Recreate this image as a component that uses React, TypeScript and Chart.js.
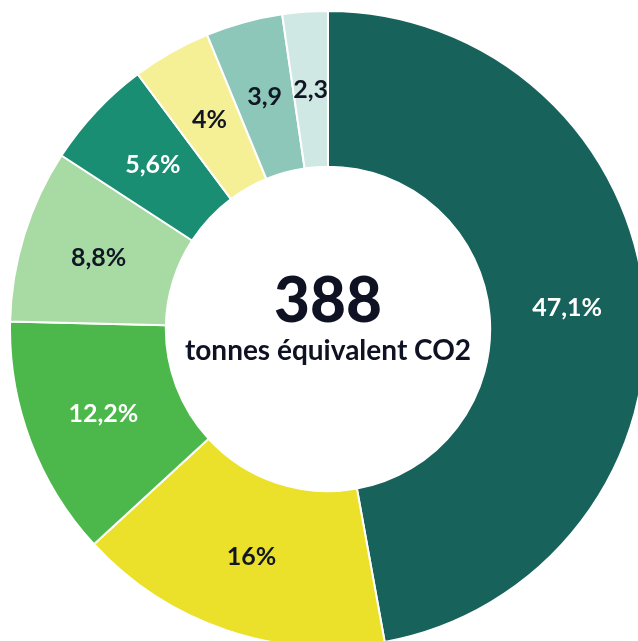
import React, { useEffect, useRef } from "react";
import { Chart, registerables } from "chart.js";

Chart.register(...registerables);

const categories = ["A", "B", "C", "D", "E", "F", "G", "H"];
const values = [47.1, 16, 12.2, 8.8, 5.6, 4, 3.9, 2.3];
const sliceLabels = ["47,1%", "16%", "12,2%", "8,8%", "5,6%", "4%", "3,9", "2,3"];
const colors = ["#17625a", "#ebe12a", "#4cb84b", "#a8dba3", "#1a8e72", "#f5ef95", "#8dc7b9", "#cfe8e3"];
const labelColors = ["#ffffff", "#111624", "#ffffff", "#111624", "#ffffff", "#111624", "#111624", "#111624"];
const centerTitle = "388";
const centerSubtitle = "tonnes équivalent CO2";

const FONT = "Lato, 'Noto Sans', sans-serif";

const labelPlugin = {
  id: "sliceLabels",
  afterDatasetsDraw(chart: any) {
    const ctx = chart.ctx;
    const meta = chart.getDatasetMeta(0);
    ctx.save();
    ctx.textAlign = "center";
    ctx.textBaseline = "middle";
    ctx.font = `bold 25px ${FONT}`;
    meta.data.forEach((arc: any, i: number) => {
      const p = arc.getCenterPoint();
      ctx.fillStyle = labelColors[i];
      ctx.fillText(sliceLabels[i], p.x, p.y);
    });
    const m = meta.data[0];
    const cx = m.x;
    const cy = m.y;
    ctx.fillStyle = "#0f1222";
    ctx.font = `900 62px ${FONT}`;
    ctx.fillText(centerTitle, cx, cy - 27);
    ctx.font = `bold 28px ${FONT}`;
    ctx.fillText(centerSubtitle, cx, cy + 22);
    ctx.restore();
  },
};

export default function App() {
  const ref = useRef<HTMLCanvasElement>(null);
  useEffect(() => {
    if (!ref.current) return;
    const chart = new Chart(ref.current, {
      type: "doughnut",
      data: {
        labels: categories,
        datasets: [
          {
            data: values,
            backgroundColor: colors,
            borderColor: "#ffffff",
            borderWidth: 2,
            hoverOffset: 0,
          },
        ],
      },
      options: {
        responsive: false,
        animation: false,
        cutout: "51%",
        layout: { padding: 0 },
        plugins: {
          legend: { display: false },
          tooltip: { enabled: false },
        },
      },
      plugins: [labelPlugin],
    });
    return () => chart.destroy();
  }, []);

  return (
    <div
      style={{
        position: "fixed",
        left: 0,
        top: 0,
        width: 638,
        height: 641,
        overflow: "hidden",
        background: "#ffffff",
      }}
    >
      <canvas
        ref={ref}
        width={638}
        height={638}
        style={{ position: "absolute", left: 9, top: 10, width: 638, height: 638 }}
      />
    </div>
  );
}
